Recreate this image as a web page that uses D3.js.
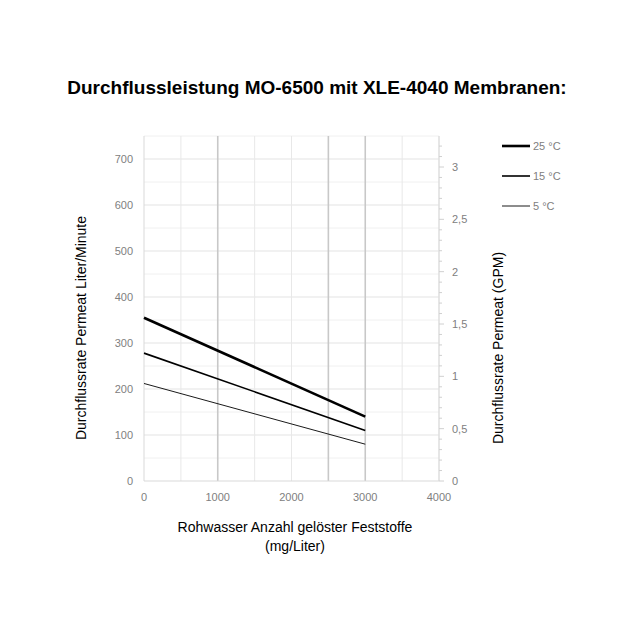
<!DOCTYPE html><html><head><meta charset="utf-8">
<script src="https://cdn.jsdelivr.net/npm/d3@7"></script>
<style>body{margin:0;background:#fff}text{font-family:"Liberation Sans",Arial,sans-serif}</style></head><body>
<svg id="c" width="620" height="620"></svg>
<script>
const tds=[0,3000];
const series=[{name:"25 °C",w:2.6,v:[355,140]},{name:"15 °C",w:1.6,v:[278,110]},{name:"5 °C",w:0.9,v:[212,80]}];
const xTicks=[0,1000,2000,3000,4000];
const yTicks=[0,100,200,300,400,500,600,700];
const gpmTicks=[0,0.5,1,1.5,2,2.5,3];
(function(){
const svg=d3.select("#c");
const x=d3.scaleLinear([0,4000],[144,439]);
const y=d3.scaleLinear([0,700],[481,159]);
const yR=d3.scaleLinear([0,3],[481,167]);
const yTop=y(750);
d3.range(50,751,50).forEach(v=>svg.append("line").attr("x1",x(0)).attr("x2",x(4000)).attr("y1",y(v)).attr("y2",y(v)).attr("stroke",v%100?"#f0f0f0":"#e3e3e3"));
d3.range(500,4001,500).forEach(v=>{const dark=[1000,2500,3000].includes(v);svg.append("line").attr("x1",x(v)).attr("x2",x(v)).attr("y1",yTop).attr("y2",y(0)).attr("stroke",dark?"#c8c8c8":"#e8e8e8").attr("stroke-width",dark?1.6:1);});
svg.append("line").attr("x1",x(0)).attr("x2",x(0)).attr("y1",yTop).attr("y2",y(0)).attr("stroke","#d9d9d9");
svg.append("line").attr("x1",x(0)).attr("x2",x(4000)).attr("y1",y(0)).attr("y2",y(0)).attr("stroke","#d9d9d9");
svg.append("line").attr("x1",x(4000)).attr("x2",x(4000)).attr("y1",yTop).attr("y2",y(0)).attr("stroke","#d9d9d9");
d3.range(0,3.3,0.1).forEach(v=>svg.append("line").attr("x1",x(4000)).attr("x2",x(4000)+(Math.abs(v*2-Math.round(v*2))<1e-6?5:3)).attr("y1",yR(v)).attr("y2",yR(v)).attr("stroke","#d0d0d0"));
const g="#808080";
yTicks.forEach(v=>svg.append("text").attr("x",133).attr("y",y(v)+4).attr("text-anchor","end").attr("font-size",11).attr("fill",g).text(v));
xTicks.forEach(v=>svg.append("text").attr("x",x(v)).attr("y",501).attr("text-anchor","middle").attr("font-size",11).attr("fill",g).text(v));
gpmTicks.forEach(v=>svg.append("text").attr("x",452).attr("y",yR(v)+4).attr("font-size",11).attr("fill",g).text(String(v).replace(".",",")));
const line=d3.line().x((d,i)=>x(tds[i])).y(d=>y(d));
series.forEach((s,i)=>{svg.append("path").attr("d",line(s.v)).attr("fill","none").attr("stroke","#000").attr("stroke-width",s.w);
 const ly=146+i*30;svg.append("line").attr("x1",502).attr("x2",530).attr("y1",ly).attr("y2",ly).attr("stroke","#000").attr("stroke-width",s.w);
 svg.append("text").attr("x",533).attr("y",ly+4).attr("font-size",11).attr("fill",g).text(s.name);});
svg.append("text").attr("x",317).attr("y",94).attr("text-anchor","middle").attr("font-size",19).attr("font-weight","bold").text("Durchflussleistung MO-6500 mit XLE-4040 Membranen:");
svg.append("text").attr("transform","translate(86,328) rotate(-90)").attr("text-anchor","middle").attr("font-size",14).text("Durchflussrate Permeat Liter/Minute");
svg.append("text").attr("transform","translate(503,348) rotate(-90)").attr("text-anchor","middle").attr("font-size",14).text("Durchflussrate Permeat (GPM)");
svg.append("text").attr("x",295).attr("y",532).attr("text-anchor","middle").attr("font-size",14).text("Rohwasser Anzahl gelöster Feststoffe");
svg.append("text").attr("x",295).attr("y",551).attr("text-anchor","middle").attr("font-size",14).text("(mg/Liter)");
})();
</script></body></html>
